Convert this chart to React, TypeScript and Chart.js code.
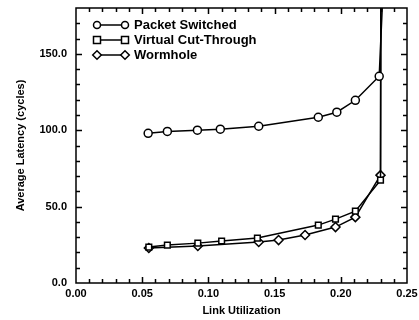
import React, { useEffect, useRef } from "react";
import { Chart, registerables } from "chart.js";
Chart.register(...registerables);

const seriesNames = ["Packet Switched", "Virtual Cut-Through", "Wormhole"];
const pointStyles = ["circle", "rect", "rectRot"];

const psX = [0.0545, 0.069, 0.0917, 0.109, 0.138, 0.183, 0.197, 0.211, 0.229, 0.2318];
const psY = [98, 99.2, 100, 100.7, 102.6, 108.5, 111.8, 119.6, 135.3, 190];
const vctX = [0.055, 0.069, 0.092, 0.11, 0.137, 0.183, 0.196, 0.211, 0.23, 0.2318];
const vctY = [23.5, 24.8, 26.1, 27.5, 29.4, 37.9, 41.8, 47.0, 67.3, 1000];
const whX = [0.055, 0.092, 0.138, 0.153, 0.173, 0.196, 0.211, 0.23, 0.2318];
const whY = [22.9, 24.2, 26.8, 28.1, 31.4, 36.6, 43.1, 70.6, 1000];

const xTicks = [0, 0.05, 0.1, 0.15, 0.2, 0.25];
const yTicks = [0, 50, 100, 150];

const FONT = "'Liberation Sans', Arial, Helvetica, sans-serif";

function drawMarker(ctx: CanvasRenderingContext2D, style: string, x: number, y: number, r: number) {
  ctx.beginPath();
  if (style === "circle") {
    ctx.arc(x, y, r, 0, Math.PI * 2);
  } else if (style === "rect") {
    ctx.rect(x - r, y - r, 2 * r, 2 * r);
  } else {
    ctx.moveTo(x, y - r - 0.8);
    ctx.lineTo(x + r + 0.8, y);
    ctx.lineTo(x, y + r + 0.8);
    ctx.lineTo(x - r - 0.8, y);
    ctx.closePath();
  }
  ctx.fillStyle = "#fff";
  ctx.fill();
  ctx.stroke();
}

const framePlugin = {
  id: "frameTicks",
  afterDatasetsDraw(chart: any) {
    const { ctx, chartArea } = chart;
    const { left, right, top, bottom } = chartArea;
    const xs = chart.scales.x;
    const ys = chart.scales.y;
    ctx.save();
    ctx.strokeStyle = "#000";
    ctx.lineWidth = 1.5;
    ctx.strokeRect(left, top, right - left, bottom - top);
    ctx.lineWidth = 1.5;
    ctx.beginPath();
    for (let i = 1; i < 25; i++) {
      const v = i / 100;
      const px = Math.round(xs.getPixelForValue(v)) + 0.5;
      const len = i % 5 === 0 ? 6 : 4;
      ctx.moveTo(px, bottom);
      ctx.lineTo(px, bottom - len);
      ctx.moveTo(px, top);
      ctx.lineTo(px, top + len);
    }
    for (let v = 10; v < 180; v += 10) {
      const py = Math.round(ys.getPixelForValue(v)) + 0.5;
      const len = v % 50 === 0 ? 6 : 4;
      ctx.moveTo(left, py);
      ctx.lineTo(left + len, py);
      ctx.moveTo(right, py);
      ctx.lineTo(right - len, py);
    }
    ctx.stroke();

    // legend
    ctx.lineWidth = 1.5;
    ctx.font = "bold 13px " + FONT;
    ctx.textBaseline = "middle";
    ctx.fillStyle = "#000";
    seriesNames.forEach((name, i) => {
      const y = 25 + 15 * i;
      ctx.beginPath();
      ctx.moveTo(97, y);
      ctx.lineTo(125, y);
      ctx.stroke();
      drawMarker(ctx, pointStyles[i], 97, y, 3.5);
      drawMarker(ctx, pointStyles[i], 125, y, 3.5);
      ctx.fillStyle = "#000";
      ctx.fillText(name, 134, y + 0.5);
    });
    ctx.restore();
  },
};

function mk(xs: number[], ys: number[], i: number) {
  const last = xs.length - 1;
  return {
    label: seriesNames[i],
    data: xs.map((x, k) => ({ x, y: ys[k] })),
    borderColor: "#000",
    borderWidth: 1.5,
    backgroundColor: "#fff",
    pointBackgroundColor: "#fff",
    pointBorderColor: "#000",
    pointBorderWidth: 1.5,
    pointStyle: pointStyles[i],
    pointRadius: (c: any) => (c.dataIndex === last ? 0 : i === 2 ? 4.5 : 4),
    clip: 0,
    tension: 0,
    showLine: true,
  };
}

export default function App() {
  const ref = useRef<HTMLCanvasElement | null>(null);
  useEffect(() => {
    document.body.style.margin = "0";
    const chart = new Chart(ref.current!, {
      type: "scatter",
      data: {
        datasets: [mk(psX, psY, 0), mk(vctX, vctY, 1), mk(whX, whY, 2)],
      },
      options: {
        animation: false,
        responsive: false,
        layout: { padding: { top: 8, right: 12, left: 0, bottom: 0 } },
        plugins: { legend: { display: false }, tooltip: { enabled: false } },
        scales: {
          x: {
            type: "linear",
            min: 0,
            max: 0.25,
            afterBuildTicks: (s: any) => {
              s.ticks = xTicks.map((v) => ({ value: v }));
            },
            afterFit: (s: any) => {
              s.height = 37;
              s.paddingLeft = 0;
              s.paddingRight = 0;
            },
            grid: { display: false, drawTicks: false },
            border: { display: false },
            ticks: {
              padding: 4,
              color: "#000",
              font: { family: FONT, size: 11, weight: "bold" },
              callback: (v: any) => Number(v).toFixed(2),
              maxRotation: 0,
            },
            title: {
              display: true,
              text: "Link Utilization",
              color: "#000",
              font: { family: FONT, size: 11, weight: "bold" },
              padding: { top: 2, bottom: 2 },
            },
          },
          y: {
            type: "linear",
            min: 0,
            max: 180,
            afterBuildTicks: (s: any) => {
              s.ticks = yTicks.map((v) => ({ value: v }));
            },
            afterFit: (s: any) => {
              s.width = 76;
              s.paddingTop = 0;
              s.paddingBottom = 0;
            },
            grid: { display: false, drawTicks: false },
            border: { display: false },
            ticks: {
              padding: 9,
              color: "#000",
              font: { family: FONT, size: 11, weight: "bold" },
              callback: (v: any) => Number(v).toFixed(1),
            },
            title: {
              display: true,
              text: "Average Latency (cycles)",
              color: "#000",
              font: { family: FONT, size: 11, weight: "bold" },
              padding: { top: 14, bottom: 0 },
            },
          },
        },
      },
      plugins: [framePlugin],
    } as any);
    return () => chart.destroy();
  }, []);
  return <canvas ref={ref} width={419} height={320} style={{ display: "block" }} />;
}
